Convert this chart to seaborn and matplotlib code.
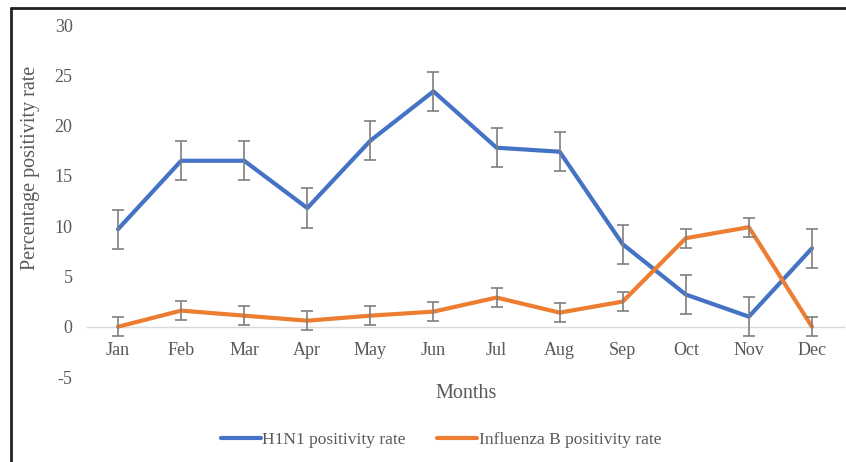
import matplotlib
matplotlib.use("Agg")
import matplotlib.pyplot as plt
from matplotlib.lines import Line2D
import seaborn as sns
import pandas as pd

months = ["Jan", "Feb", "Mar", "Apr", "May", "Jun", "Jul", "Aug", "Sep", "Oct", "Nov", "Dec"]
h1n1 = [9.7, 16.5, 16.5, 11.8, 18.5, 23.4, 17.8, 17.4, 8.2, 3.2, 1.0, 7.8]
h1n1_err = [1.95] * 12
flu_b = [0.0, 1.6, 1.1, 0.6, 1.1, 1.5, 2.9, 1.4, 2.5, 8.8, 9.9, 0.0]
flu_b_err = [0.95] * 12
series_names = ["H1N1 positivity rate", "Influenza B positivity rate"]
yticks = [-5, 0, 5, 10, 15, 20, 25, 30]

BLUE = "#4472C4"
ORANGE = "#ED7D31"
GREY_TXT = "#595959"

sns.set_theme(style="white")
plt.rcParams["font.family"] = ["Liberation Serif", "DejaVu Serif"]

df = pd.DataFrame({
    "month_idx": list(range(12)) * 2,
    "rate": h1n1 + flu_b,
    "series": [series_names[0]] * 12 + [series_names[1]] * 12,
})

fig = plt.figure(figsize=(8.46, 4.62), dpi=100)
W, H = 846, 462
ax = fig.add_axes([86.5 / W, 1 - 377 / H, (843.5 - 86.5) / W, (377 - 25) / H])

sns.lineplot(data=df, x="month_idx", y="rate", hue="series",
             palette=[BLUE, ORANGE], linewidth=3.0, ax=ax, legend=False,
             solid_capstyle="round", solid_joinstyle="round")

x = list(range(12))
ax.errorbar(x, h1n1, yerr=h1n1_err, fmt="none", ecolor="#7f7f7f",
            elinewidth=1.2, capsize=4, capthick=1.2, zorder=5)
ax.errorbar(x, flu_b, yerr=flu_b_err, fmt="none", ecolor="#7f7f7f",
            elinewidth=1.2, capsize=4, capthick=1.2, zorder=5)

ax.set_xlim(-0.5, 11.5)
ax.set_ylim(-5, 30)
ax.set_yticks(yticks)
ax.set_yticklabels([str(v) for v in yticks])
ax.set_xticks(x)
ax.set_xticklabels(months)
ax.tick_params(axis="both", length=0, labelsize=13, labelcolor=GREY_TXT)
ax.tick_params(axis="y", pad=10)
ax.tick_params(axis="x", pad=11)

for side in ["top", "right", "left"]:
    ax.spines[side].set_visible(False)
ax.spines["bottom"].set_position(("data", 0))
ax.spines["bottom"].set_color("#d9d9d9")
ax.spines["bottom"].set_linewidth(1.0)
ax.spines["bottom"].set_zorder(0)
ax.set_xlabel("")
ax.set_ylabel("")
ax.grid(False)

fig.text(466 / W, 1 - 393 / H, "Months", ha="center", va="center",
         fontsize=14.5, color=GREY_TXT)
fig.text(30 / W, 1 - 168 / H, "Percentage positivity rate", ha="center", va="center",
         rotation=90, fontsize=14.5, color=GREY_TXT)

handles = [Line2D([0], [0], color=BLUE, linewidth=3.0),
           Line2D([0], [0], color=ORANGE, linewidth=3.0)]
leg = fig.legend(handles, series_names, loc="center", ncol=2,
                 bbox_to_anchor=(441 / W, 1 - 440 / H), frameon=False,
                 fontsize=12.5, handlelength=2.3, handletextpad=0.1,
                 columnspacing=1.8)
for t in leg.get_texts():
    t.set_color(GREY_TXT)

# outer frame: left and top edges
fig.add_artist(Line2D([10.5 / W, 10.5 / W], [0, 1 - 8 / H], color="#222222",
                      linewidth=2.0, transform=fig.transFigure))
fig.add_artist(Line2D([10.5 / W, 1], [1 - 8 / H, 1 - 8 / H], color="#222222",
                      linewidth=2.0, transform=fig.transFigure))

fig.savefig("out.png", dpi=100)
